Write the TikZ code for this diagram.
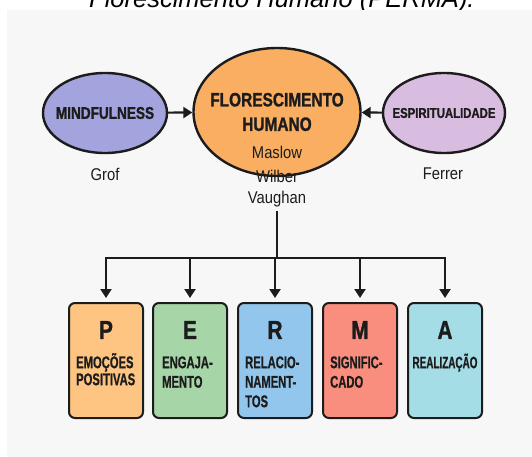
\documentclass[tikz,border=0pt]{standalone}
\usepackage{fontspec}
\setmainfont{Liberation Sans}
\newfontfamily\condb[FakeStretch=0.8,FakeBold=1.2]{Liberation Sans}
\newfontfamily\subb[FakeStretch=0.66,FakeBold=0.6]{Liberation Sans}
\newfontfamily\subc[FakeStretch=0.6,FakeBold=0.6]{Liberation Sans}
\newfontfamily\condr[FakeStretch=0.87]{Liberation Sans}
\newcommand\firstln{\rule{0pt}{17pt}}
\usetikzlibrary{arrows.meta,shapes.geometric}
\definecolor{bgc}{HTML}{F8F7F7}
\definecolor{ink}{HTML}{1C1C1C}
\definecolor{cmind}{HTML}{A3A3DD}
\definecolor{ccent}{HTML}{F9AE62}
\definecolor{cesp}{HTML}{D9BDE1}
\definecolor{cP}{HTML}{FDC581}
\definecolor{cE}{HTML}{A6D5A7}
\definecolor{cR}{HTML}{93C6EC}
\definecolor{cM}{HTML}{F98E7E}
\definecolor{cA}{HTML}{A5DDE7}
\tikzset{
  oval/.style={ellipse, draw=ink, line width=2.4pt, inner sep=0pt},
  otext/.style={text=ink, inner sep=0pt, align=center},
  wire/.style={draw=ink, line width=2.2pt},
  arr/.style={draw=ink, line width=2.2pt, -{Triangle[length=9pt,width=11pt]}},
  perma/.style={draw=ink, line width=2pt, rounded corners=6pt, minimum width=74pt, minimum height=115pt, inner sep=0pt},
  letter/.style={text=ink, font=\condb\bfseries\fontsize{26}{30}\selectfont, inner sep=0pt},
  sub/.style={text=ink, font=\subb\bfseries\fontsize{17}{19.5}\selectfont, inner sep=0pt, align=left, anchor=north west},
  auth/.style={text=ink, font=\condr\fontsize{17}{20}\selectfont, inner sep=0pt},
}
\begin{document}
\begin{tikzpicture}[x=1pt,y=-1pt]
\clip (0,0) rectangle (532,457);
\node[anchor=base west, font=\itshape\fontsize{25.5}{30}\selectfont, text=black, inner sep=0pt] (title) at (89,8) {Florescimento Humano (PERMA).};
\fill[bgc] (7,10) rectangle (532,457);

% ellipses
\node[oval, fill=cmind, minimum width=124pt, minimum height=80pt] (mind) at (105,113) {};
\node[oval, fill=ccent, minimum width=167pt, minimum height=128pt] (cent) at (277,112) {};
\node[oval, fill=cesp, minimum width=122pt, minimum height=80pt] (esp) at (444,113) {};

\node[otext, font=\condb\bfseries\fontsize{17}{20}\selectfont] (tmind) at (105,113) {MINDFULNESS};
\node[otext, font=\condb\bfseries\fontsize{19.3}{24.5}\selectfont] (tcent) at (277,112) {FLORESCIMENTO\\HUMANO};
\node[otext, font=\condb\bfseries\fontsize{14.2}{18}\selectfont] (tesp) at (444,113) {ESPIRITUALIDADE};

\draw[arr] (mind) -- (cent);
\draw[arr] (esp) -- (cent);

% authors
\node[auth] (grof) at (105,174) {Grof};
\node[auth] (ferrer) at (443,174) {Ferrer};
\node[auth] (maslow) at (277,152) {Maslow};
\node[auth] (wilber) at (277,176) {Wilber};
\node[auth] (vaughan) at (277,199) {Vaughan};

% boxes
\node[perma, fill=cP] (bP) at (106,360.5) {};
\node[perma, fill=cE] (bE) at (190,360.5) {};
\node[perma, fill=cR] (bR) at (275,360.5) {};
\node[perma, fill=cM] (bM) at (360,360.5) {};
\node[perma, fill=cA] (bA) at (445,360.5) {};

\node[letter] (lP) at (106,330) {P};
\node[letter] (lE) at (190,330) {E};
\node[letter] (lR) at (275,330) {R};
\node[letter] (lM) at (360,330) {M};
\node[letter] (lA) at (445,330) {A};

\node[sub, font=\subb\bfseries\fontsize{17}{17}\selectfont] (sP) at (76,351) {\firstln EMOÇÕES\\POSITIVAS};
\node[sub] (sE) at (162,351) {\firstln ENGAJA-\\MENTO};
\node[sub] (sR) at (245,351) {\firstln RELACIO-\\NAMENT-\\TOS};
\node[sub] (sM) at (330,351) {\firstln SIGNIFIC-\\CADO};
\node[sub, font=\subc\bfseries\fontsize{16.5}{19.5}\selectfont, anchor=north] (sA) at (445,351) {\firstln REALIZAÇÃO};

% tree connectors
\coordinate (j) at (277,258);
\draw[wire, shorten <=4pt] (vaughan.south) -- (j);
\draw[wire, line cap=rect] (bP.north |- j) -- (bA.north |- j);
\foreach \b in {bP,bE,bR,bM,bA}{
  \draw[arr, shorten >=4pt] (\b.north |- j) -- (\b.north);
}
\end{tikzpicture}
\end{document}
